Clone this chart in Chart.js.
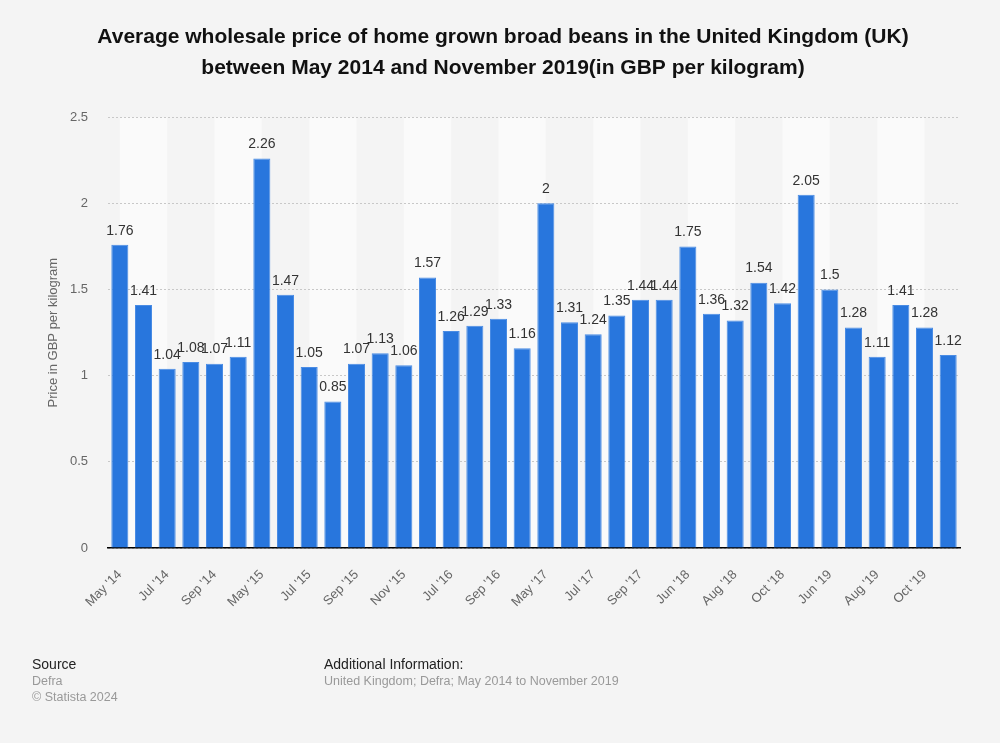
<!doctype html>
<html lang="en">
<head>
  <meta charset="utf-8" />
  <title>Broad beans wholesale price UK</title>
  <script src="https://cdn.jsdelivr.net/npm/chart.js@4.4.1/dist/chart.umd.min.js"></script>
  <style>
    body {
      margin: 0;
      padding: 0;
      background-color: #f4f4f4;
      font-family: "Liberation Sans", Arial, sans-serif;
    }

    .wrap {
      position: relative;
      width: 1000px;
      height: 743px;
    }

    #chart {
      position: absolute;
      left: 0;
      top: 0;
    }

    .foot {
      position: absolute;
      top: 656px;
      font-size: 12.5px;
      line-height: 16px;
      color: #999;
    }

    .foot b {
      font-weight: normal;
      font-size: 14px;
      color: #222;
    }
  </style>
</head>
<body>
  <div class="wrap">
    <canvas id="chart" width="1000" height="743"></canvas>
    <div class="foot" style="left:32px"><b>Source</b><br>Defra<br>&copy; Statista 2024</div>
    <div class="foot" style="left:324px"><b>Additional Information:</b><br>United Kingdom; Defra; May 2014 to November 2019</div>
  </div>

  <script>
    // categories (every other one is labelled on the axis)
    const months = [
      "May '14", "Jun '14", "Jul '14", "Aug '14", "Sep '14", "Oct '14",
      "May '15", "Jun '15", "Jul '15", "Aug '15", "Sep '15", "Oct '15", "Nov '15",
      "Jun '16", "Jul '16", "Aug '16", "Sep '16", "Oct '16",
      "May '17", "Jun '17", "Jul '17", "Aug '17", "Sep '17", "Oct '17",
      "Jun '18", "Jul '18", "Aug '18", "Sep '18", "Oct '18",
      "May '19", "Jun '19", "Jul '19", "Aug '19", "Sep '19", "Oct '19", "Nov '19"
    ];

    // price in GBP per kilogram
    const prices = [
      1.76, 1.41, 1.04, 1.08, 1.07, 1.11,
      2.26, 1.47, 1.05, 0.85, 1.07, 1.13, 1.06,
      1.57, 1.26, 1.29, 1.33, 1.16,
      2.00, 1.31, 1.24, 1.35, 1.44, 1.44,
      1.75, 1.36, 1.32, 1.54, 1.42,
      2.05, 1.50, 1.28, 1.11, 1.41, 1.28, 1.12
    ];

    const yTicks = [0, 0.5, 1, 1.5, 2, 2.5];

    const FONT = "'Liberation Sans', Arial, sans-serif";

    // alternating light column bands, two categories wide
    const bandsPlugin = {
      id: "bands",
      beforeDraw(chart) {
        const { ctx, chartArea, scales } = chart;
        const x = scales.x;
        ctx.save();
        ctx.beginPath();
        ctx.rect(chartArea.left, chartArea.top, chartArea.right - chartArea.left, chartArea.bottom - chartArea.top);
        ctx.clip();
        ctx.fillStyle = "#fafafa";
        for (let i = 0; i < months.length; i += 4) {
          const x0 = x.getPixelForValue(i);
          const x1 = x.getPixelForValue(i + 2);
          ctx.fillRect(x0, chartArea.top, x1 - x0, chartArea.bottom - chartArea.top);
        }
        ctx.restore();
      }
    };

    // value labels above bars
    const valueLabels = {
      id: "valueLabels",
      afterDatasetsDraw(chart) {
        const { ctx } = chart;
        const meta = chart.getDatasetMeta(0);
        ctx.save();
        ctx.font = "14px " + FONT;
        ctx.fillStyle = "#333";
        ctx.textAlign = "center";
        ctx.textBaseline = "bottom";
        meta.data.forEach((bar, i) => {
          ctx.fillText(String(prices[i]), bar.x, bar.y - 7);
        });
        ctx.restore();
      }
    };

    new Chart(document.getElementById("chart"), {
      type: "bar",
      data: {
        labels: months,
        datasets: [{
          data: prices,
          backgroundColor: "#2876dd",
          borderColor: "#4a8ce4",
          borderWidth: 1,
          barPercentage: 0.72,
          categoryPercentage: 1
        }]
      },
      plugins: [bandsPlugin, valueLabels],
      options: {
        responsive: false,
        animation: false,
        layout: {
          padding: { top: 8, right: 40, bottom: 114, left: 46 }
        },
        plugins: {
          legend: { display: false },
          tooltip: { enabled: false },
          title: {
            display: true,
            text: [
              "Average wholesale price of home grown broad beans in the United Kingdom (UK)",
              "between May 2014 and November 2019(in GBP per kilogram)"
            ],
            color: "#111",
            font: { family: FONT, size: 21, weight: "bold", lineHeight: 1.48 },
            padding: { top: 14, bottom: 33 }
          }
        },
        scales: {
          x: {
            grid: { display: false, drawTicks: false },
            border: { display: true, color: "#000", width: 1.5 },
            ticks: {
              color: "#666",
              font: { family: FONT, size: 13 },
              maxRotation: 45,
              minRotation: 45,
              autoSkip: false,
              padding: 19,
              callback: (v, i) => (i % 2 === 0 ? months[i] : "")
            }
          },
          y: {
            min: 0,
            max: 2.5,
            afterBuildTicks: (axis) => {
              axis.ticks = yTicks.map((v) => ({ value: v }));
            },
            // fixed axis width (Chart.js counts tick padding twice)
            afterFit: (scale) => {
              scale.width = 62;
            },
            grid: {
              color: "#c8c8c8",
              drawTicks: false
            },
            border: { display: false, dash: [2, 2] },
            ticks: {
              color: "#666",
              font: { family: FONT, size: 13 },
              padding: 20,
              callback: (v) => String(v)
            },
            title: {
              display: true,
              text: "Price in GBP per kilogram",
              color: "#666",
              font: { family: FONT, size: 13 },
              padding: { top: 0, bottom: 8 }
            }
          }
        }
      }
    });
  </script>
</body>
</html>
